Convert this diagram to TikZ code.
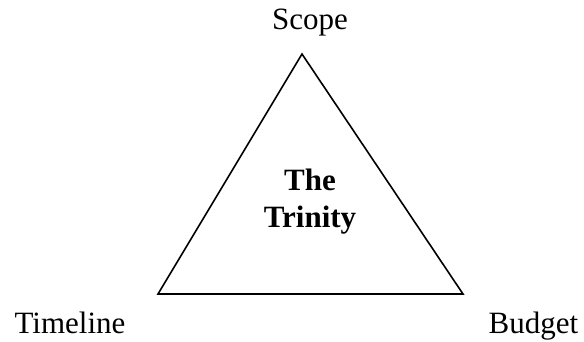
\documentclass[tikz,border=0pt]{standalone}
\usepackage{fontspec}
\setmainfont{Liberation Serif}
\tikzset{
    corner/.style={font=\fontsize{31}{37}\selectfont, inner sep=0pt, anchor=base},
    trinity/.style={font=\fontsize{31}{37}\selectfont\bfseries, inner sep=0pt, align=center}
}
\begin{document}
\begin{tikzpicture}[x=1pt, y=-1pt]
    \useasboundingbox (0,0) rectangle (584,341);

    % Triangle corners
    \coordinate (apex) at (302,54);
    \coordinate (left) at (158,294);
    \coordinate (right) at (463,294);

    % The triangle
    \draw[line width=1.6pt, line join=miter] (apex) -- (left) -- (right) -- cycle;

    % Corner labels
    \node[corner] (scope) at (310,29) {Scope};
    \node[corner] (timeline) at (70,333) {Timeline};
    \node[corner] (budget) at (533.5,333) {Budget};

    % Centre label
    \node[trinity] (trinity) at (310,201.5) {The\\Trinity};
\end{tikzpicture}
\end{document}
